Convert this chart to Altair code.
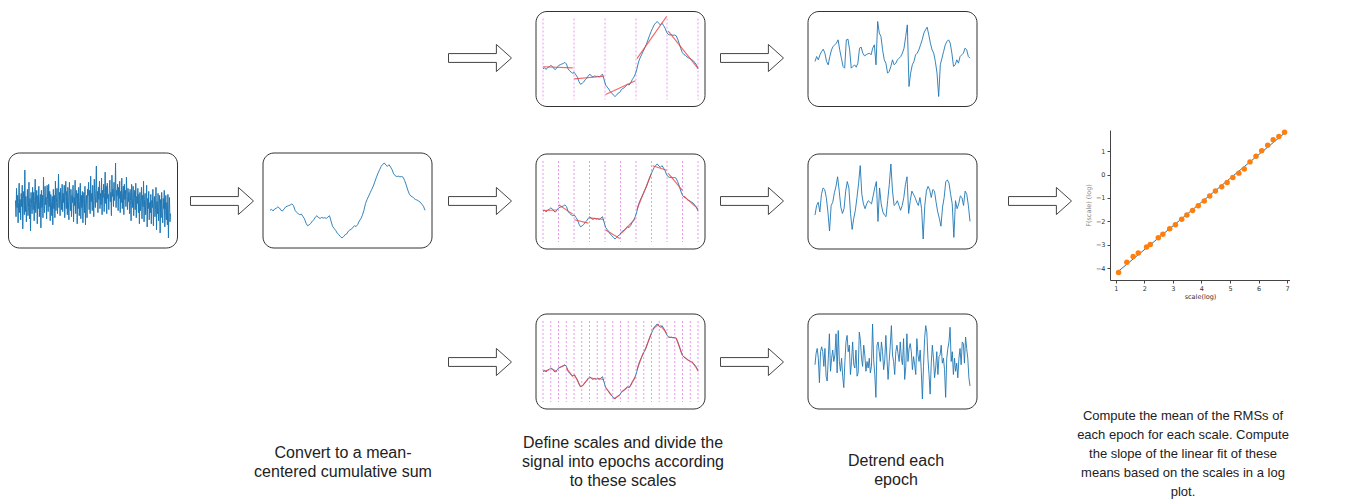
import altair as alt
import pandas as pd

# ---------------- data ----------------
RAW_SIGNAL = [
    0.4, -1.2, 1.6, -0.3, 0.9, -1.8, 0.2, 2.1, -0.8, 0.5, -1.5, 1.1, -0.2, 1.9, -2.4, 0.6, 1.3, -1.0, 3.4, -0.7,
    0.8, -1.7, 0.1, 1.5, -1.1, -0.3, 2.2, -1.4, 0.6, -2.6, 1.2, 0.1, -0.9, 1.7, -0.5, 1.2, -1.6, 0.4, 2.5, -0.8,
    -0.1, 1.4, -1.9, 0.9, -0.4, 1.8, -1.2, 0.3, 1.0, -2.3, 1.4, -0.3, 0.9, -1.3, 2.7, 0.2, -0.8, 1.8, 0.0, 0.7,
    -1.4, 1.9, 0.5, -0.7, 2.0, -0.2, 1.3, -1.6, 1.0, 0.3, -1.1, 0.8, -2.0, 1.5, -0.4, 0.9, -1.3, 2.3, -0.6, 0.2,
    1.6, -0.9, 0.7, 3.0, -0.3, 1.2, -1.1, 1.6, 0.6, -0.5, 2.0, -0.7, 1.1, 0.2, 1.9, -1.3, 0.8, 2.3, -0.4, 1.3,
    -1.0, 1.7, 0.3, -1.5, 2.2, 0.7, -0.6, 1.5, -1.2, 0.9, 0.2, 1.9, -1.7, 0.7, -0.1, 2.4, -0.9, 0.5, 1.4, -1.9,
    1.1, -0.4, 1.7, -1.1, 0.3, 2.1, -1.4, 0.9, -0.3, 1.3, -1.8, 0.6, 1.2, -0.8, 1.8, -2.0, 0.4, 0.9, -1.3, 1.5,
    0.9, 2.2, -0.5, 1.4, -0.9, 2.8, 0.3, 1.1, -0.6, 1.9, 0.4, -1.2, 2.5, 0.8, -0.3, 1.6, 3.8, 0.2, 1.3, -0.8,
    1.7, 0.5, 2.3, -0.4, 1.1, 0.0, 2.6, -1.0, 1.4, 0.7, 2.0, -0.7, 1.2, 3.2, 0.1, 1.8, -0.9, 2.1, 0.6, 1.0,
    -0.5, 1.6, 2.4, 0.3, 1.2, -1.1, 2.9, 0.8, 1.5, -0.2, 2.2, 0.4, 1.0, 4.1, -0.3, 1.4, 0.9, 2.0, -0.6, 1.7,
    0.6, 2.3, -0.8, 1.3, 0.2, 2.6, -0.4, 1.1, 1.8, -1.0, 2.0, 0.5, 1.4, -0.2, 2.7, 0.9, -0.5, 1.6, 0.3, 1.2,
    -0.9, 1.5, 0.4, -1.6, 2.0, 0.7, -0.3, 1.8, -1.1, 0.6, 1.4, -0.5, 2.1, -1.3, 0.8, 0.1, 1.6, -0.8, 1.0, -1.9,
    1.2, -0.6, 0.4, 1.7, -1.4, 0.9, -0.2, 2.3, -1.7, 0.5, 1.1, -1.0, 0.3, 1.9, -2.2, 0.6, -0.4, 1.3, -1.5, 0.2,
    -0.8, 1.0, -1.9, 0.4, -0.3, 1.5, -2.1, 0.1, 0.8, -1.2, -0.5, 1.7, -2.5, 0.3, -0.9, 1.1, -1.6, -0.2, 0.9, -2.8,
    0.5, -1.3, 1.2, -0.7, -1.8, 0.6, -0.4, 1.4, -2.2, -0.6, 0.9, -1.5, 0.2, -2.0, 1.0, -3.3, -0.5, 0.7, -1.7, -0.9,
]

CUMSUM = [
    1.0, 1.3, 0.8, 1.4, 1.6, 2.0, 1.7, 1.0, 0.8, 1.4,
    2.0, 2.2, 2.4, 2.6, 2.9, 2.4, 1.0, 0.4, 0.0, -0.3,
    -0.1, -0.8, -1.5, -2.8, -3.6, -3.3, -2.9, -2.2, -1.8, -1.0,
    -0.6, -1.2, -1.4, -1.1, -1.3, -1.2, -1.4, -1.0, -0.6, -2.2,
    -3.8, -4.4, -5.0, -5.8, -6.2, -6.8, -7.2, -6.8, -6.2, -6.0,
    -5.2, -4.8, -4.6, -4.0, -3.6, -3.8, -3.2, -2.2, -1.5, -0.5,
    1.0, 3.0, 4.2, 5.2, 6.2, 7.2, 8.2, 9.5, 10.8, 12.0,
    13.0, 14.0, 14.6, 15.0, 14.4, 14.0, 14.5, 13.8, 13.0, 11.8,
    11.2, 11.0, 11.1, 10.9, 11.0, 10.8, 9.8, 8.5, 7.0, 5.8,
    5.2, 5.0, 4.5, 4.2, 4.0, 3.7, 3.4, 2.8, 2.2, 1.0,
]

DETREND_A = [
    -1.5, 0.0, -1.0, 0.5, 1.5, 2.2, 1.0, -1.5, -2.5, 0.0, 2.0, 3.0, 3.5, 4.0, 5.0,
    2.0, -0.5, -3.0, -3.5, 5.0, 5.2, 2.0, -3.5, -3.0, -2.5, -3.2, -2.0, 2.5, 2.8, 1.0,
    0.2, 0.5, 0.8, 1.0, 0.5, 2.5, 3.5, -2.5, 10.5, 7.0, 6.0, 2.0, -1.0, -2.0, -5.0,
    -4.5, -3.0, -1.0, -2.5, -2.0, -1.0, -0.5, 0.0, 1.0, 2.5, 6.0, 9.5, -9.0, -5.0,
    -2.5, -1.5, 0.5, 1.0, 2.0, 3.5, 5.0, 7.0, 8.0, 8.8, 6.5, 4.0, 2.0, 1.0, -1.5,
    -5.0, -12.0, -2.5, -0.5, 1.5, 3.5, 4.5, 5.0, 4.0, 1.0, -3.0, -2.5, -1.0, -2.0,
    0.0, 0.5, 1.0, 2.5, 2.0, 0.0, -0.5,
]

DETREND_B = [
    -4.0, -1.0, 0.0, -3.0, 2.5, 4.5, 4.0, 1.5, -3.0, -9.0, -1.0, 0.0, 3.0, 5.0, 8.0,
    3.5, -1.5, -3.5, -2.0, 3.5, 6.5, 4.5, -3.5, -8.5, -5.0, -2.5, 1.5, 6.0, 11.5, 2.5,
    -0.5, -2.0, -0.5, 0.5, 0.0, -0.5, 2.0, 4.5, 6.5, -6.0, 4.5, -0.5, -3.0, -4.0, -4.5,
    0.5, 5.5, 12.0, 3.5, -1.0, -0.5, 0.5, -1.0, -2.5, -1.0, 1.5, 5.5, 8.0, -3.5, 0.5,
    3.5, 2.5, 1.5, 0.0, -1.0, 1.5, -2.0, -11.5, -1.0, 3.5, 5.0, 4.0, 1.5, 4.0, 3.5,
    0.0, -3.0, -5.0, -7.5, -1.5, 1.5, 6.5, 7.0, 6.0, 2.5, -0.5, -11.0, 0.5, -2.0, -0.5,
    2.0, 1.5, -1.0, 3.5, 2.5, -1.0, -6.0,
]

DETREND_C = [
    -2.0, 1.5, 3.0, 0.0, -7.5, 2.0, 3.5, 2.0, -2.5, 3.0, -5.5, -7.0, 0.0, 7.5, -4.0,
    0.0, 2.5, -1.0, 1.0, 7.5, -4.5, 8.5, -1.0, -4.0, 0.0, -5.5, -9.0, -1.0, 5.0, 7.0,
    2.0, 4.0, -5.0, -1.0, 5.0, -2.0, -3.0, 2.5, -5.5, -4.5, 8.0, 5.5, 0.0, -2.5, 4.0,
    1.0, -4.0, -1.0, -3.0, 0.0, -4.5, -2.5, 10.5, -0.5, -5.0, -12.0, 4.0, 5.0, 2.0, -1.0,
    5.0, 2.0, -3.5, -0.5, 7.0, 0.0, -6.5, -1.0, 4.0, 10.0, 1.0, -1.0, -5.0, 2.0, 4.0,
    1.5, -1.0, 5.0, 0.0, -2.0, 6.0, -6.5, -2.5, 7.5, -1.0, 3.0, 4.5, 2.0, -3.5, 0.5,
    -2.0, -5.0, 6.0, 1.0, -1.0, 2.5, -4.0, -12.5, -2.5, 6.0, 10.0, 8.0, 0.0, -5.0, -11.0,
    -1.5, 4.0, 0.0, -6.0, -3.0, 2.0, -5.0, 0.5, 1.0, 4.0, -1.5, 0.0, -3.5, -12.0, 0.0,
    3.0, 5.0, 9.5, -1.0, 2.0, -5.0, 0.0, -4.0, -1.5, -6.0, 0.0, 3.0, -2.0, 5.0, 4.5,
    -1.5, 6.5, 3.0, 0.0, -6.0, -8.5,
]

EPOCH_COUNTS = [5, 10, 20]

LOG_SCALE = [1.10, 1.39, 1.61, 1.79, 2.08, 2.21, 2.49, 2.65, 2.89, 3.09, 3.31, 3.49,
             3.69, 3.89, 4.10, 4.29, 4.49, 4.71, 4.90, 5.10, 5.31, 5.50, 5.70, 5.91,
             6.11, 6.32, 6.51, 6.71, 6.91]
LOG_F = [-4.18, -3.74, -3.50, -3.35, -3.09, -2.99, -2.70, -2.55, -2.31, -2.14, -1.91, -1.73,
         -1.53, -1.33, -1.13, -0.92, -0.70, -0.52, -0.34, -0.13, 0.06, 0.24, 0.54, 0.78,
         1.02, 1.25, 1.48, 1.62, 1.80]
LOG_TICKS_X = [1, 2, 3, 4, 5, 6, 7]
LOG_TICKS_Y = [-4, -3, -2, -1, 0, 1]

CAPTIONS = [
    "Convert to a mean-\ncentered cumulative sum",
    "Define scales and divide the\nsignal into epochs according\nto these scales",
    "Detrend each\nepoch",
]
FINAL_CAPTION = ("Compute the mean of the RMSs of\neach epoch for each scale. Compute\n"
                 "the slope of the linear fit of these\nmeans based on the scales in a log\nplot.")

# ---------------- layout (pixels) ----------------
W_LEFT, H = 1102, 485
BOX_W, BOX_H, MX, MY = 169, 95, 7, 10
FONT = "Liberation Sans"

layout = pd.DataFrame({
    "panel": ["raw", "cumsum", "ep5", "ep10", "ep20", "dt5", "dt10", "dt20"],
    "bx": [0.5, 255, 528, 528, 528, 800, 800, 800],
    "by": [142, 142, 0.5, 143, 303, 0.5, 143, 303],
})
arrows = pd.DataFrame({
    "ax": [214, 472, 472, 472, 744, 744, 744, 1032],
    "ay": [190, 47, 190, 351, 47, 190, 351, 190],
})
captions = pd.DataFrame({"txt": CAPTIONS, "cx": [335, 615, 888], "cy": [442, 432, 450]})

series = {"raw": RAW_SIGNAL, "cumsum": CUMSUM, "ep5": CUMSUM, "ep10": CUMSUM,
          "ep20": CUMSUM, "dt5": DETREND_A, "dt10": DETREND_B, "dt20": DETREND_C}
nep = dict(zip(["ep5", "ep10", "ep20"], EPOCH_COUNTS))
rows = []
for p, vals in series.items():
    for i, v in enumerate(vals):
        rows.append({"panel": p, "i": i, "v": v, "nep": nep.get(p, 0)})
sig = pd.DataFrame(rows)
ep_df = pd.DataFrame({"panel": list(nep.keys()), "nep": EPOCH_COUNTS})

XS = alt.Scale(domain=[0, W_LEFT], nice=False, zero=False)
YS = alt.Scale(domain=[0, H], nice=False, zero=False, reverse=True)


def X(f):
    return alt.X(f, type="quantitative", scale=XS, axis=None)


def Y(f):
    return alt.Y(f, type="quantitative", scale=YS, axis=None)


LOOK = alt.LookupData(data=layout, key="panel", fields=["bx", "by"])
XEXPR = f"datum.bx + {MX} + datum.t * {BOX_W - 2 * MX}"
YEXPR = f"datum.by + {MY} + (1 - datum.vn) * {BOX_H - 2 * MY}"


def placed(ch):
    return (ch.transform_lookup(lookup="panel", from_=LOOK)
            .transform_joinaggregate(n="max(i)", vmin="min(v)", vmax="max(v)", groupby=["panel"])
            .transform_calculate(t="datum.i / datum.n",
                                 vn="(datum.v - datum.vmin) / (datum.vmax - datum.vmin)"))


boxes = alt.Chart(layout).transform_calculate(
    x2=f"datum.bx + {BOX_W}", y2=f"datum.by + {BOX_H}"
).mark_rect(cornerRadius=11, fill="white", stroke="#333333", strokeWidth=1).encode(
    x=X("bx"), x2="x2:Q", y=Y("by"), y2="y2:Q")

vlines = alt.Chart(ep_df).transform_lookup(lookup="panel", from_=LOOK).transform_calculate(
    k="sequence(0, datum.nep + 1)").transform_flatten(["k"]).transform_calculate(
    t="datum.k / datum.nep", y1="datum.by + 7", y2=f"datum.by + {BOX_H - 7}"
).transform_calculate(X=XEXPR).mark_rule(
    color="#dd55dd", strokeDash=[2, 2], strokeWidth=1, opacity=0.6
).encode(x=X("X"), y=Y("y1"), y2="y2:Q")

lines = placed(alt.Chart(sig)).transform_calculate(
    X=XEXPR, Y=YEXPR, sw="datum.panel == 'raw' ? 1.0 : 0.9"
).mark_line(color="#1f77b4").encode(
    x=X("X"), y=Y("Y"), detail="panel:N", strokeWidth=alt.StrokeWidth("sw:Q", scale=None))

fits = placed(alt.Chart(sig)).transform_filter("datum.nep > 0").transform_calculate(
    epoch="min(floor(datum.t * datum.nep), datum.nep - 1)"
).transform_regression(on="t", regression="vn", groupby=["panel", "epoch", "bx", "by"]
).transform_calculate(X=XEXPR, Y=YEXPR).mark_line(
    color="#f04040", strokeWidth=1.1, opacity=0.8
).encode(x=X("X"), y=Y("Y"), detail=["panel:N", "epoch:N"])

ARROW = "M -1 -0.14 L 0.52 -0.14 L 0.52 -0.43 L 1 0 L 0.52 0.43 L 0.52 0.14 L -1 0.14 Z"
arrow_marks = alt.Chart(arrows).mark_point(
    shape=ARROW, size=3969, filled=True, fill="white", stroke="#444444", strokeWidth=1, opacity=1
).encode(x=X("ax"), y=Y("ay"))

cap_marks = alt.Chart(captions).mark_text(
    lineBreak="\n", fontSize=16, lineHeight=19, font=FONT, color="#222222",
    align="center", baseline="middle"
).encode(x=X("cx"), y=Y("cy"), text="txt:N")

left = alt.layer(boxes, vlines, lines, fits, arrow_marks, cap_marks).properties(
    width=W_LEFT, height=H)

# ---------------- final log-log plot ----------------
log_df = pd.DataFrame({"scale": LOG_SCALE, "F": LOG_F})
ax_common = dict(grid=False, labelFontSize=6.5, titleFontSize=6.5, titleFontWeight="normal",
                 tickSize=3, labelPadding=2, domainColor="#444444", tickColor="#444444",
                 labelColor="#333333", labelFont="DejaVu Sans", titleFont="DejaVu Sans")
lx = alt.X("scale:Q", scale=alt.Scale(domain=[0.8, 7.1], nice=False, zero=False),
           axis=alt.Axis(title="scale(log)", values=LOG_TICKS_X, format="d",
                         titleColor="#333333", titlePadding=2, **ax_common))
ly = alt.Y("F:Q", scale=alt.Scale(domain=[-4.5, 1.9], nice=False, zero=False),
           axis=alt.Axis(title="F(scale) (log)", values=LOG_TICKS_Y, format="d",
                         labelExpr="replace(datum.label, '-', '\u2212')",
                         titleColor="#888888", titlePadding=4, **ax_common))
log_base = alt.Chart(log_df)
fit_line = log_base.transform_regression("scale", "F").mark_line(
    color="#1f77b4", strokeWidth=1).encode(x=lx, y=ly)
pts = log_base.mark_circle(size=30, color="#ff7f0e", opacity=1).encode(x=lx, y=ly)
log_chart = alt.layer(fit_line, pts).properties(width=180, height=150)

spacer = alt.Chart(pd.DataFrame({"a": [0]})).mark_point(opacity=0).encode(
    x=alt.value(0), y=alt.value(0)).properties(width=180, height=119)
final_cap = alt.Chart(pd.DataFrame({"txt": [FINAL_CAPTION]})).mark_text(
    lineBreak="\n", fontSize=13, lineHeight=19, font=FONT, color="#222222",
    align="center", baseline="middle"
).encode(text="txt:N", x=alt.value(73), y=alt.value(136)).properties(width=180, height=216)

right = alt.vconcat(spacer, log_chart, final_cap, spacing=0, bounds="flush")

chart = alt.hconcat(left, right, spacing=0, bounds="flush").properties(padding=0).configure_view(
    strokeWidth=0)

chart.save("out.html", embed_options={"renderer": "svg", "actions": False})
